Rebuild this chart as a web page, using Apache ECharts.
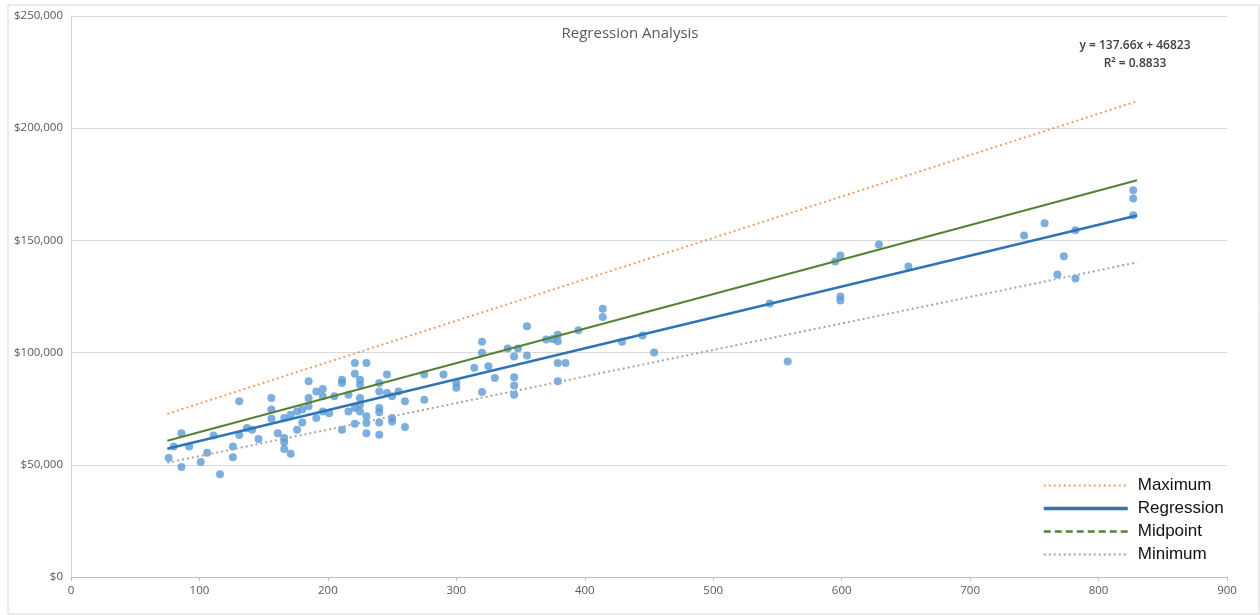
<!DOCTYPE html>
<html>
<head>
<meta charset="utf-8">
<title>Regression Analysis</title>
<script src="https://cdn.jsdelivr.net/npm/echarts@6/dist/echarts.min.js"></script>
<style>
  html, body { margin: 0; padding: 0; background: #fff; }
  #chart { width: 1260px; height: 615px; }
</style>
</head>
<body>
<div id="chart"></div>
<script>
// scatter observations (x, price)
const pointX = [76, 80, 86, 86, 92, 101, 106, 111, 116, 126, 126, 131, 131, 137, 141, 146,
  156, 156, 156, 161, 166, 166, 166, 171, 166, 171, 176, 176, 180, 180, 185, 185, 185,
  191, 191, 196, 196, 196, 201, 205, 211, 211, 211, 216, 216, 221, 221, 221, 221, 225,
  225, 225, 225, 225, 230, 230, 230, 230, 240, 240, 240, 240, 240, 240, 246, 246, 250,
  250, 250, 255, 260, 260, 275, 275, 290, 300, 300, 314, 320, 320, 320, 325, 330, 340,
  345, 345, 345, 345, 348, 355, 355, 370, 375, 379, 379, 379, 385, 379, 395, 414, 414,
  429, 445, 454, 544, 558, 595, 599, 599, 599, 629, 652, 742, 758, 768, 773, 782, 782,
  827, 827, 827];
const pointY = [53000, 58200, 64100, 49000, 58200, 51300, 55400, 63100, 45800, 58200, 53400,
  78300, 63300, 66400, 65600, 61500, 79800, 74600, 70500, 64100, 61900, 60000, 57000,
  54900, 70800, 72300, 65600, 73800, 68900, 74600, 87200, 79800, 76100, 82700, 70800,
  83800, 80500, 73800, 73000, 80500, 87900, 86400, 65600, 81200, 73800, 95400, 90600,
  75300, 68300, 87900, 85700, 79800, 76800, 73800, 95400, 71600, 68600, 64100, 86500,
  82700, 75300, 73400, 68900, 63400, 90200, 82000, 80500, 70800, 69300, 82700, 78300,
  66800, 90200, 79000, 90200, 86500, 84300, 93200, 104800, 99900, 82400, 93900, 88700,
  101800, 98300, 89000, 85300, 81200, 101800, 111700, 98700, 105800, 106100, 108000,
  105100, 95400, 95400, 87200, 110000, 119500, 115900, 104800, 107600, 100100, 121900,
  96000, 140600, 143300, 125000, 123200, 148200, 138400, 152200, 157600, 134800, 142900,
  154500, 133000, 172300, 168700, 161200];

// reference lines: start / end
const lineX = [75, 830];
const maximumY = [72700, 212000];
const regressionY = [57150, 161100];
const midpointY = [60700, 176800];
const minimumY = [50900, 140200];

const xTicks = [0, 100, 200, 300, 400, 500, 600, 700, 800, 900];
const yTicks = [0, 50000, 100000, 150000, 200000, 250000];

const pairs = (xs, ys) => xs.map((x, i) => [x, ys[i]]);

const chart = echarts.init(document.getElementById('chart'));

const axisFont = { color: '#595959', fontSize: 11.5, fontFamily: 'Open Sans' };

const option = {
  backgroundColor: '#fff',
  animation: false,
  title: {
    text: 'Regression Analysis',
    left: 'center',
    top: 21,
    textStyle: { color: '#595959', fontSize: 15, fontWeight: 'normal', fontFamily: 'Open Sans' },
  },
  grid: { left: 71, right: 33, top: 16, bottom: 38 },
  legend: {
    orient: 'vertical',
    left: 1040,
    top: 475,
    itemWidth: 84,
    itemHeight: 12,
    itemGap: 6,
    backgroundColor: '#fff',
    padding: [2, 4, 2, 2],
    itemStyle: { opacity: 0 },
    textStyle: { color: '#111', fontSize: 17, fontFamily: 'Liberation Sans', padding: [0, 0, 0, 5] },
    data: [
      { name: 'Maximum' },
      { name: 'Regression', lineStyle: { width: 3.5 } },
      { name: 'Midpoint', lineStyle: { type: [7, 4], width: 2.5 } },
      { name: 'Minimum' },
    ],
  },
  xAxis: {
    type: 'value',
    min: xTicks[0],
    max: xTicks[xTicks.length - 1],
    interval: 100,
    axisLine: { show: true, lineStyle: { color: '#bfbfbf' } },
    axisTick: { show: true, length: 4, inside: false, lineStyle: { color: '#bfbfbf' } },
    axisLabel: Object.assign({ margin: 8 }, axisFont),
    splitLine: { show: false },
  },
  yAxis: {
    type: 'value',
    min: yTicks[0],
    max: yTicks[yTicks.length - 1],
    interval: 50000,
    axisLine: { show: true, lineStyle: { color: '#d0d0d0' } },
    axisTick: { show: false },
    axisLabel: Object.assign({
      margin: 8,
      formatter: (v) => '$' + v.toLocaleString('en-US'),
    }, axisFont),
    splitLine: { show: true, lineStyle: { color: '#d9d9d9', width: 1 } },
  },
  graphic: [
    {
      type: 'rect',
      shape: { x: 8, y: 5, width: 1251, height: 609 },
      style: { fill: 'none', stroke: '#d9d9d9', lineWidth: 1 },
      silent: true,
      z: -1,
    },
    {
      type: 'text',
      x: 1135,
      y: 37,
      style: {
        text: 'y = 137.66x + 46823\nR² = 0.8833',
        align: 'center',
        fill: '#404040',
        fontSize: 12,
        fontWeight: 600,
        fontFamily: 'Open Sans',
        lineHeight: 18,
      },
    },
  ],
  series: [
    {
      name: 'Observations',
      type: 'scatter',
      symbolSize: 8,
      itemStyle: { color: '#5B9BD5' },
      data: pairs(pointX, pointY),
      z: 2,
    },
    {
      name: 'Maximum',
      type: 'line',
      symbol: 'none',
      lineStyle: { color: '#ED7D31', width: 2, type: [2, 3], opacity: 0.75 },
      itemStyle: { color: '#ED7D31' },
      data: pairs(lineX, maximumY),
      z: 3,
    },
    {
      name: 'Regression',
      type: 'line',
      symbol: 'none',
      lineStyle: { color: '#2E75B6', width: 2.5 },
      itemStyle: { color: '#2E75B6' },
      data: pairs(lineX, regressionY),
      z: 4,
    },
    {
      name: 'Midpoint',
      type: 'line',
      symbol: 'none',
      lineStyle: { color: '#548235', width: 2 },
      itemStyle: { color: '#548235' },
      data: pairs(lineX, midpointY),
      z: 4,
    },
    {
      name: 'Minimum',
      type: 'line',
      symbol: 'none',
      lineStyle: { color: '#A5A5A5', width: 2, type: [2, 3] },
      itemStyle: { color: '#A5A5A5' },
      data: pairs(lineX, minimumY),
      z: 3,
    },
  ],
};

chart.setOption(option);
window.addEventListener('resize', () => chart.resize());
</script>
</body>
</html>
